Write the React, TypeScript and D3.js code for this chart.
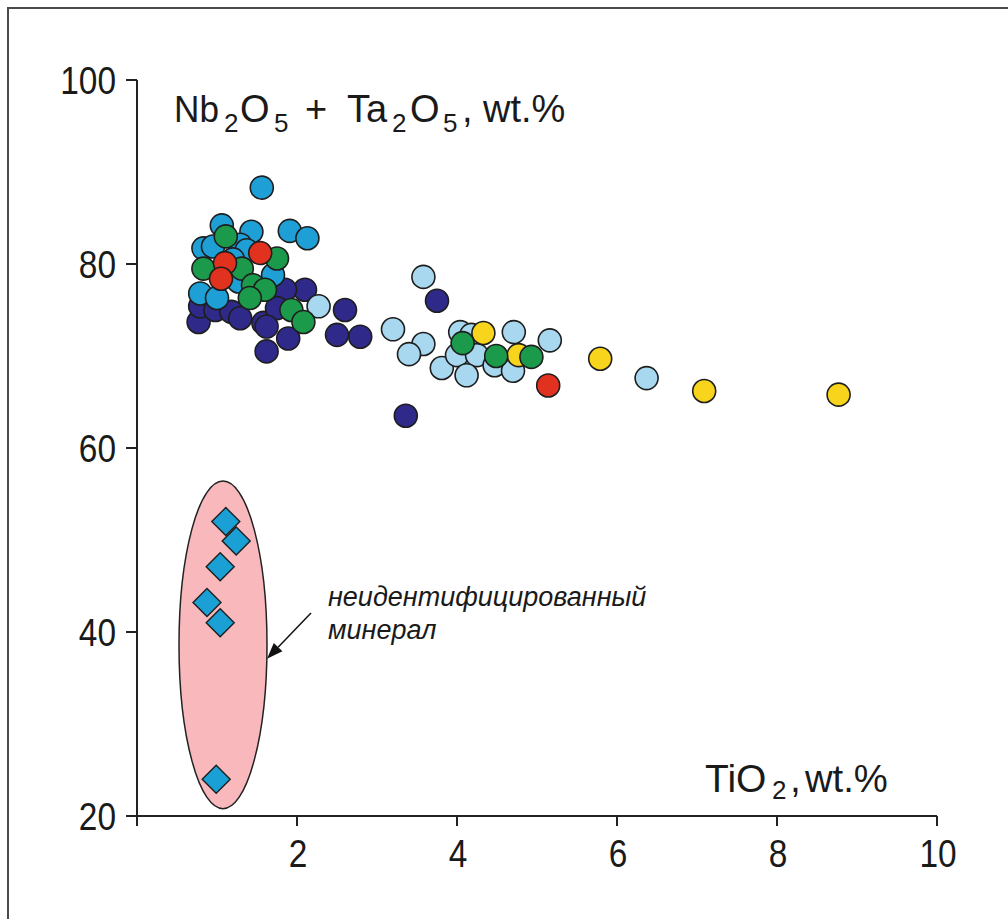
import React from "react";
import * as d3 from "d3";

// ---- data ----
const darkBlueX = [0.77, 0.79, 0.98, 1.18, 1.29, 1.58, 2.1, 1.85, 2.6, 1.75, 1.62, 1.89, 1.62, 2.5, 2.79, 3.75, 3.36];
const darkBlueY = [73.7, 75.4, 75.0, 74.8, 74.1, 73.6, 77.2, 77.2, 75.0, 75.2, 73.2, 71.9, 70.5, 72.3, 72.1, 76.0, 63.5];

const paleBlueX = [2.27, 3.58, 3.2, 3.58, 3.4, 4.04, 4.18, 4.71, 5.16, 3.81, 4.0, 4.25, 4.12, 4.47, 4.7, 6.37];
const paleBlueY = [75.4, 78.6, 72.9, 71.3, 70.2, 72.6, 72.3, 72.6, 71.7, 68.7, 70.1, 70.1, 67.9, 69.0, 68.4, 67.6];

const cyanX = [1.56, 1.06, 1.43, 1.91, 2.13, 0.83, 0.95, 1.29, 1.37, 1.2, 1.7, 0.79, 1.0, 1.27];
const cyanY = [88.3, 84.2, 83.5, 83.6, 82.8, 81.7, 81.9, 82.1, 81.5, 80.5, 78.8, 76.8, 76.3, 78.1];

const yellowX = [4.33, 4.77, 5.79, 7.09, 8.77];
const yellowY = [72.5, 70.1, 69.7, 66.2, 65.8];

const greenX = [1.11, 0.83, 1.31, 1.75, 1.45, 1.6, 1.41, 1.93, 2.08, 4.07, 4.49, 4.93];
const greenY = [83.0, 79.5, 79.5, 80.6, 77.7, 77.2, 76.3, 75.0, 73.7, 71.4, 70.0, 69.9];

const redX = [1.54, 1.1, 1.05, 5.14];
const redY = [81.2, 80.1, 78.4, 66.8];

const diamondX = [1.11, 1.24, 1.04, 0.875, 1.04, 0.99];
const diamondY = [52.0, 49.9, 47.1, 43.2, 41.0, 24.0];

const xTicks = [0, 2, 4, 6, 8, 10];
const xTickLabels = ["", "2", "4", "6", "8", "10"];
const yTicks = [20, 40, 60, 80, 100];
const yTickLabels = ["20", "40", "60", "80", "100"];

// ellipse enclosing the unidentified mineral (data units)
const ellipseCenter = [1.075, 38.6];
const ellipseRadii = [0.55, 17.8];

const annotationLines = ["неидентифицированный", "минерал"];

const series = [
  { name: "darkBlue", xs: darkBlueX, ys: darkBlueY, color: "#2f2a8a" },
  { name: "paleBlue", xs: paleBlueX, ys: paleBlueY, color: "#a8d8f0" },
  { name: "cyan", xs: cyanX, ys: cyanY, color: "#1ea0d6" },
  { name: "yellow", xs: yellowX, ys: yellowY, color: "#f8d51c" },
  { name: "green", xs: greenX, ys: greenY, color: "#1c9a4b" },
  { name: "red", xs: redX, ys: redY, color: "#e1321f" },
];

const FONT = "'Liberation Sans', Arial, Helvetica, sans-serif";

function T(props: { x: number; y: number; size: number; sx?: number; anchor?: string; children: React.ReactNode }) {
  const sx = props.sx ?? 0.88;
  return (
    <text
      transform={`translate(${props.x},${props.y}) scale(${sx},1)`}
      fontSize={props.size}
      textAnchor={props.anchor || "start"}
      fill="#1a1a1a"
    >
      {props.children}
    </text>
  );
}

export default function App() {
  const W = 1008;
  const H = 919;
  const x = d3.scaleLinear().domain([0, 10]).range([137, 937]);
  const y = d3.scaleLinear().domain([20, 100]).range([816, 80]);
  const r = 11.5;
  const dHalf = 14;

  const ex = x(ellipseCenter[0]);
  const ey = y(ellipseCenter[1]);
  const erx = x(ellipseCenter[0] + ellipseRadii[0]) - ex;
  const ery = ey - y(ellipseCenter[1] + ellipseRadii[1]);

  // arrow from text toward ellipse right edge
  const arrowStart = [311, 613];
  const arrowEnd = [ex + erx, y(ellipseCenter[1] - 1.5)];
  const ang = Math.atan2(arrowEnd[1] - arrowStart[1], arrowEnd[0] - arrowStart[0]);
  const ahLen = 16;
  const ahW = 6;
  const bx = arrowEnd[0] - ahLen * Math.cos(ang);
  const by = arrowEnd[1] - ahLen * Math.sin(ang);
  const arrowHead = `M${arrowEnd[0]},${arrowEnd[1]} L${bx + ahW * Math.sin(ang)},${by - ahW * Math.cos(ang)} L${bx - ahW * Math.sin(ang)},${by + ahW * Math.cos(ang)} Z`;

  const tb = 122; // title baseline
  const sb = 132; // subscript baseline

  return (
    <svg
      width={W}
      height={H}
      style={{ position: "absolute", left: 0, top: 0, background: "#fff" }}
      fontFamily={FONT}
    >
      <rect x={0} y={0} width={W} height={H} fill="#fff" />
      {/* frame */}
      <rect x={8} y={8} width={1100} height={1000} fill="none" stroke="#4a4a4a" strokeWidth={2} />

      {/* ellipse */}
      <ellipse cx={ex} cy={ey} rx={erx} ry={ery} fill="#f8b8bc" stroke="#222" strokeWidth={1.5} />

      {/* axes */}
      <line x1={x(0)} x2={x(10)} y1={y(20)} y2={y(20)} stroke="#222" strokeWidth={2} />
      <line x1={x(0)} x2={x(0)} y1={y(20)} y2={y(100)} stroke="#222" strokeWidth={2} />
      {xTicks.map((t, i) => (
        <g key={"xt" + i}>
          <line x1={x(t)} x2={x(t)} y1={y(20)} y2={y(20) + 10} stroke="#222" strokeWidth={2} />
          <T x={x(t) + 1} y={867} size={38} anchor="middle">
            {xTickLabels[i]}
          </T>
        </g>
      ))}
      {yTicks.map((t, i) => (
        <g key={"yt" + i}>
          <line x1={x(0) - 11} x2={x(0)} y1={y(t)} y2={y(t)} stroke="#222" strokeWidth={2} />
          <T x={116} y={y(t) + 14} size={38} anchor="end">
            {yTickLabels[i]}
          </T>
        </g>
      ))}

      {/* axis titles */}
      <T x={174} y={tb} size={37} sx={0.95}>Nb</T>
      <T x={224} y={sb} size={26} sx={1}>2</T>
      <T x={240} y={tb} size={38} sx={1}>O</T>
      <T x={274} y={sb} size={26} sx={1}>5</T>
      <T x={305} y={tb} size={38} sx={1}>+</T>
      <T x={347} y={tb} size={38} sx={1}>Ta</T>
      <T x={392} y={sb} size={26} sx={1}>2</T>
      <T x={410} y={tb} size={38} sx={1}>O</T>
      <T x={443} y={sb} size={26} sx={1}>5</T>
      <T x={462} y={tb} size={38} sx={1}>,</T>
      <T x={483} y={tb} size={38} sx={1}>wt.%</T>

      <T x={705} y={792} size={39} sx={1}>TiO</T>
      <T x={772} y={799} size={26} sx={1}>2</T>
      <T x={790} y={792} size={39} sx={1}>,</T>
      <T x={805} y={792} size={39} sx={0.98}>wt.%</T>

      {/* circles */}
      {series.map((s) => (
        <g key={s.name}>
          {s.xs.map((v, i) => (
            <circle
              key={i}
              cx={x(v)}
              cy={y(s.ys[i])}
              r={r}
              fill={s.color}
              stroke="#1e1e1e"
              strokeWidth={1.6}
            />
          ))}
        </g>
      ))}

      {/* diamonds */}
      {diamondX.map((v, i) => {
        const cx = x(v);
        const cy = y(diamondY[i]);
        return (
          <path
            key={"d" + i}
            d={`M${cx},${cy - dHalf} L${cx + dHalf},${cy} L${cx},${cy + dHalf} L${cx - dHalf},${cy} Z`}
            fill="#1aa0d5"
            stroke="#1e1e1e"
            strokeWidth={1.4}
          />
        );
      })}

      {/* annotation */}
      <line x1={arrowStart[0]} y1={arrowStart[1]} x2={bx} y2={by} stroke="#111" strokeWidth={1.5} />
      <path d={arrowHead} fill="#111" />
      {annotationLines.map((t, i) => (
        <text key={"a" + i} x={328} y={606 + i * 33} fontSize={27} fontStyle="italic" fill="#1a1a1a">
          {t}
        </text>
      ))}
    </svg>
  );
}
